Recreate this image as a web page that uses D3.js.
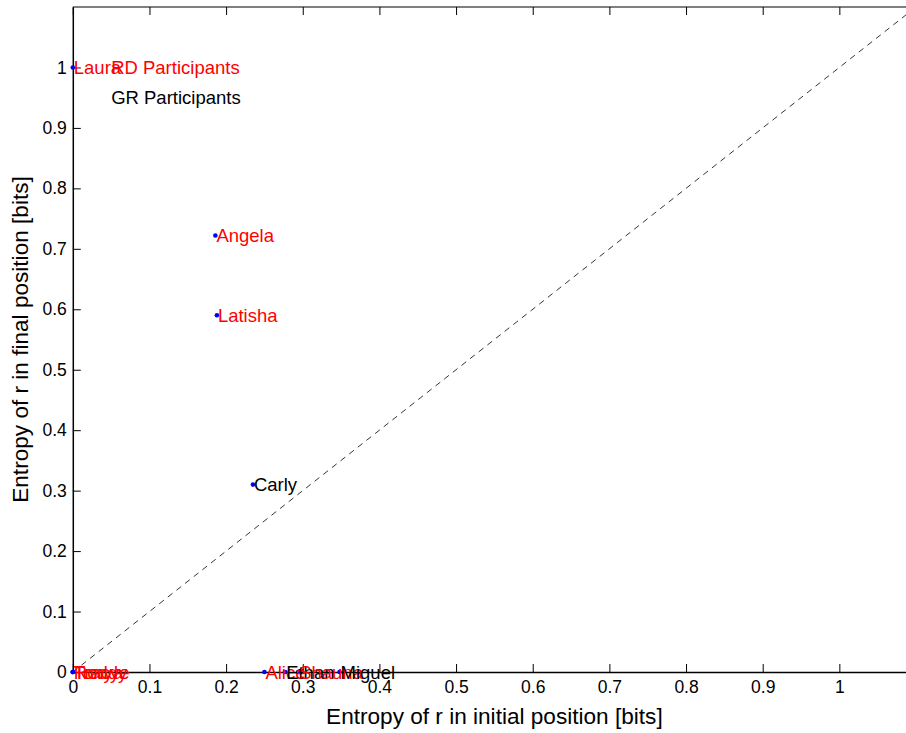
<!DOCTYPE html>
<html>
<head>
<meta charset="utf-8">
<script src="https://cdn.jsdelivr.net/npm/d3@7"></script>
<style>
  html, body { margin: 0; padding: 0; background: #fff; }
  svg { display: block; font-family: "Liberation Sans", Arial, sans-serif; }
</style>
</head>
<body>
<svg id="chart" width="906" height="733"></svg>
<script>
// ---- data ----
const names   = ["Laura", "Angela", "Latisha", "Carly", "Tonya", "Roddy", "Tracye", "Alice", "Ethan", "Shauna", "Miguel"];
const groups  = ["RD", "RD", "RD", "GR", "RD", "RD", "RD", "RD", "GR", "RD", "GR"];
const initialEntropy = [0, 0.186, 0.188, 0.235, 0, 0, 0, 0.25, 0.277, 0.294, 0.348];
const finalEntropy   = [1, 0.722, 0.59, 0.31, 0, 0, 0, 0, 0, 0, 0];
const legendLabels = ["RD Participants", "GR Participants"];
const legendX = [0.05, 0.05];
const legendY = [1.0, 0.95];
const tickValues = [0, 0.1, 0.2, 0.3, 0.4, 0.5, 0.6, 0.7, 0.8, 0.9, 1];
const xTitle = "Entropy of r in initial position [bits]";
const yTitle = "Entropy of r in final position [bits]";

const groupColor = { RD: "#ff0000", GR: "#000000" };

const svg = d3.select("#chart");
const x = d3.scaleLinear().domain([0, 1.1]).range([72.8, 916]);
const y = d3.scaleLinear().domain([0, 1.1]).range([672, 7]);

// box (top + left, right is off-screen)
svg.append("line").attr("x1", x(0)).attr("x2", x(1.1)).attr("y1", y(1.1)).attr("y2", y(1.1))
  .attr("stroke", "#000").attr("stroke-width", 1.2);

// diagonal
svg.append("line")
  .attr("x1", x(0)).attr("y1", y(0)).attr("x2", x(1.1)).attr("y2", y(1.1))
  .attr("stroke", "#000").attr("stroke-width", 0.8).attr("stroke-dasharray", "6,5");

// axes with inward ticks
const fmt = d => d === 0 ? "0" : d === 1 ? "1" : d3.format(".1f")(d);
const xAxis = svg.append("g").attr("transform", `translate(0,${y(0)})`)
  .call(d3.axisBottom(x).tickValues(tickValues).tickFormat(fmt).tickSizeInner(-8).tickSizeOuter(0).tickPadding(16));
const xTop = svg.append("g").attr("transform", `translate(0,${y(1.1)})`)
  .call(d3.axisTop(x).tickValues(tickValues).tickFormat("").tickSizeInner(-8).tickSizeOuter(0));
xTop.select(".domain").remove();
const yAxis = svg.append("g").attr("transform", `translate(${x(0)},0)`)
  .call(d3.axisLeft(y).tickValues(tickValues).tickFormat(fmt).tickSizeInner(-8).tickSizeOuter(0).tickPadding(14));
[xAxis, yAxis].forEach(g => {
  g.selectAll("text").attr("font-size", 17.5).attr("fill", "#000")
    .attr("font-family", "Liberation Sans, Arial, sans-serif");
  g.select(".domain").attr("stroke-width", 1.5);
});
xAxis.selectAll(".tick text").attr("dy", "0.71em").attr("y", 9);
yAxis.selectAll(".tick text").attr("x", -6);

// titles
svg.append("text").attr("x", (x(0) + x(1.1)) / 2).attr("y", 724)
  .attr("text-anchor", "middle").attr("font-size", 22.6).text(xTitle);
svg.append("text").attr("transform", `translate(28,${(y(0) + y(1.1)) / 2}) rotate(-90)`)
  .attr("text-anchor", "middle").attr("font-size", 22.6).text(yTitle);

// points
const data = names.map((n, i) => ({ name: n, g: groups[i], xi: initialEntropy[i], yf: finalEntropy[i] }));
svg.append("g").selectAll("circle").data(data).join("circle")
  .attr("cx", d => x(d.xi)).attr("cy", d => y(d.yf)).attr("r", 2.3).attr("fill", "#0000ff");

svg.append("g").selectAll("text").data(data).join("text")
  .attr("x", d => x(d.xi) + 1).attr("y", d => y(d.yf)).attr("dy", "0.36em")
  .attr("font-size", 18.5).attr("fill", d => groupColor[d.g]).text(d => d.name);

// legend texts
svg.append("g").selectAll("text").data(legendLabels).join("text")
  .attr("x", (d, i) => x(legendX[i])).attr("y", (d, i) => y(legendY[i])).attr("dy", "0.36em")
  .attr("font-size", 18.5).attr("fill", (d, i) => i === 0 ? groupColor.RD : groupColor.GR).text(d => d);
</script>
</body>
</html>
